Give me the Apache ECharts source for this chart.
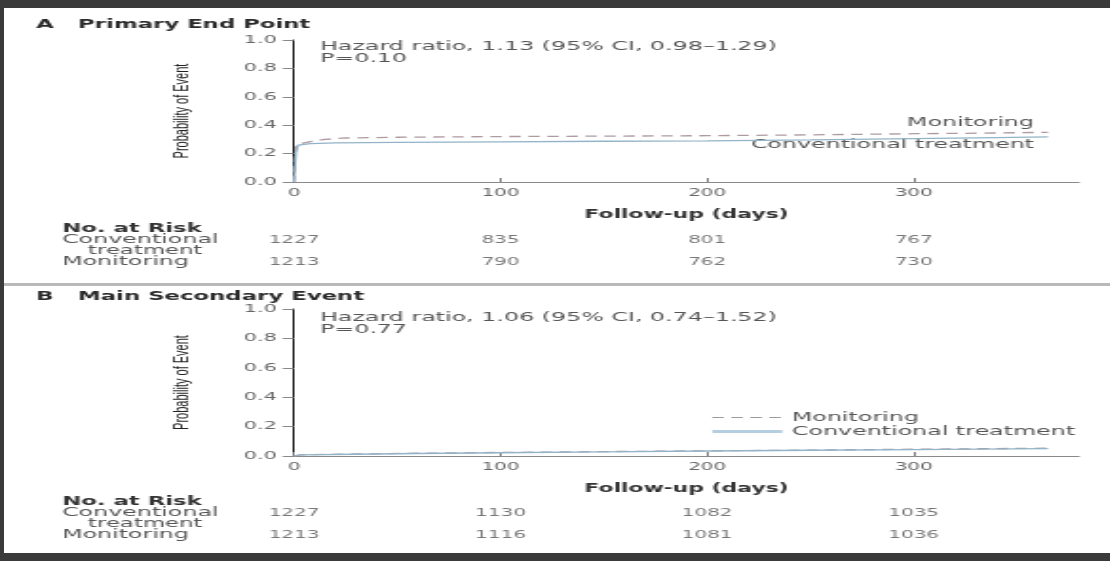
<!DOCTYPE html>
<html>
<head>
<meta charset="utf-8">
<script src="https://cdn.jsdelivr.net/npm/echarts@6/dist/echarts.min.js"></script>
<style>
  html, body { margin: 0; padding: 0; width: 1110px; height: 561px; overflow: hidden; background: #3a3a3a; }
  #frame { position: absolute; left: 4px; top: 8px; width: 1106px; height: 545px; background: #fff; }
  #rule { position: absolute; left: 4px; top: 283px; width: 1106px; height: 3px; background: #b9b9b9; }
  #chart { position: absolute; left: 0; top: 0; height: 561px; transform-origin: 0 0; }
</style>
</head>
<body>
<div id="frame"></div>
<div id="rule"></div>
<div id="chart"></div>
<script>
// ---- data -------------------------------------------------------------
const xTicks = [0, 100, 200, 300];
const xMax = 380;

// Panel A: cumulative probability of the primary end point, [day, probability]
const primaryMonitoring = [[0, 0], [0.5, 0.16], [1, 0.25], [3, 0.27], [8, 0.285], [15, 0.30], [25, 0.31], [50, 0.315], [100, 0.32], [150, 0.323], [200, 0.326], [250, 0.332], [300, 0.34], [340, 0.345], [365, 0.35]];
const primaryConventional = [[0, 0], [0.5, 0.12], [1, 0.22], [2, 0.26], [8, 0.27], [20, 0.275], [50, 0.279], [100, 0.283], [150, 0.287], [200, 0.29], [250, 0.297], [300, 0.306], [340, 0.313], [365, 0.318]];

// Panel B: cumulative probability of the main secondary event
const secondaryMonitoring = [[0, 0], [3, 0.008], [30, 0.014], [60, 0.019], [100, 0.024], [150, 0.03], [200, 0.035], [250, 0.04], [300, 0.046], [365, 0.053]];
const secondaryConventional = [[0, 0], [3, 0.007], [30, 0.012], [60, 0.017], [100, 0.022], [150, 0.028], [200, 0.034], [250, 0.039], [300, 0.044], [365, 0.05]];

// Numbers at risk
const riskDays = [0, 100, 200, 300];
const primaryRiskConventional = [1227, 835, 801, 767];
const primaryRiskMonitoring = [1213, 790, 762, 730];
const secondaryRiskConventional = [1227, 1130, 1082, 1035];
const secondaryRiskMonitoring = [1213, 1116, 1081, 1036];

const primaryHazard = 'Hazard ratio, 1.13 (95% CI, 0.98\u20131.29)\nP=0.10';
const secondaryHazard = 'Hazard ratio, 1.06 (95% CI, 0.74\u20131.52)\nP=0.77';

// ---- layout ------------------------------------------------------------
// The figure is drawn narrow and widened horizontally by S.
const S = 1.9;
const W = 1110 / S;
const px = v => v / S;
const FONT = '"DejaVu Sans", Verdana, sans-serif';
const MON_COLOR = '#ad9aa2';
const CONV_COLOR = '#93b3c8';

const chartEl = document.getElementById('chart');
chartEl.style.width = W + 'px';
chartEl.style.transform = 'scaleX(' + S + ')';

const plotLeft = px(294);
const plotWidth = px(785);

function plotXAxis(gridIndex) {
  return {
    gridIndex, type: 'value', min: 0, max: xMax, interval: 100,
    axisLine: { show: true, lineStyle: { color: '#8a8a8a', width: 1 } },
    axisTick: { show: true, inside: true, length: 4, customValues: xTicks, lineStyle: { color: '#777' } },
    axisLabel: { customValues: xTicks, fontSize: 10.5, color: '#666', margin: 6, fontFamily: FONT },
    splitLine: { show: false },
    name: 'Follow-up (days)', nameLocation: 'middle', nameGap: 27,
    nameTextStyle: { fontSize: 11.5, fontWeight: 'bold', color: '#333', fontFamily: FONT }
  };
}
function plotYAxis(gridIndex) {
  return {
    gridIndex, type: 'value', min: 0, max: 1, interval: 0.2,
    axisLine: { show: true, lineStyle: { color: '#1a1a1a', width: 1 } },
    axisTick: { show: true, length: 6, lineStyle: { color: '#888' } },
    axisLabel: { formatter: v => v.toFixed(1), fontSize: 11, color: '#666', margin: 9, fontFamily: FONT },
    splitLine: { show: false },
    name: 'Probability of Event', nameLocation: 'middle', nameGap: 53, nameRotate: 90,
    nameTextStyle: { fontSize: 11, color: '#222', fontFamily: '"Liberation Sans", Arial, sans-serif' }
  };
}
function riskXAxis(gridIndex) {
  return { gridIndex, type: 'value', min: 0, max: xMax, show: false };
}
function riskYAxis(gridIndex) {
  return { gridIndex, type: 'value', min: 0, max: 1, show: false };
}

function curve(name, data, axisIndex, dashed) {
  return {
    name, type: 'line', xAxisIndex: axisIndex, yAxisIndex: axisIndex, data,
    symbol: 'none', silent: true,
    lineStyle: { color: dashed ? MON_COLOR : CONV_COLOR, width: 1.3, type: dashed ? [6, 4] : 'solid' },
    itemStyle: { color: dashed ? MON_COLOR : CONV_COLOR }
  };
}
function riskRow(values, row, axisIndex) {
  return {
    type: 'scatter', xAxisIndex: axisIndex, yAxisIndex: axisIndex, silent: true,
    symbolSize: 1, itemStyle: { color: 'rgba(0,0,0,0)' },
    data: riskDays.map((d, i) => [d, row, values[i]]),
    label: { show: true, position: 'inside', formatter: p => String(p.value[2]), fontSize: 10.5, color: '#555', fontFamily: FONT }
  };
}

function text(x, y, str, size, extra) {
  return {
    type: 'text', x: px(x), y, silent: true,
    style: Object.assign({ text: str, fill: '#555', font: size + 'px ' + FONT, align: 'left', verticalAlign: 'middle' }, extra || {})
  };
}
function bold(x, y, str, size, fill) {
  return text(x, y, str, size, { font: 'bold ' + size + 'px ' + FONT, fill: fill || '#2a2a2a' });
}

const graphics = [
  // Panel A
  bold(36, 25, 'A', 12), bold(78, 25, 'Primary End Point', 12),
  text(320, 53, primaryHazard, 12.5, { lineHeight: 12 }),
  text(1034, 123, 'Monitoring', 12.5, { align: 'right' }),
  text(1034, 145, 'Conventional treatment', 12.5, { align: 'right' }),
  bold(62, 229, 'No. at Risk', 12, '#333'),
  text(62, 240, 'Conventional', 12.5), text(88, 251, 'treatment', 12), text(62, 262, 'Monitoring', 12.5),
  // Panel B
  bold(36, 297, 'B', 12), bold(78, 297, 'Main Secondary Event', 12),
  text(320, 324, secondaryHazard, 12.5, { lineHeight: 12 }),
  bold(62, 502, 'No. at Risk', 12, '#333'),
  text(62, 513, 'Conventional', 12.5), text(88, 524, 'treatment', 12), text(62, 535, 'Monitoring', 12.5)
];

const hiddenMarker = { color: 'rgba(0,0,0,0)', borderWidth: 0, opacity: 0 };

const chart = echarts.init(chartEl, null, { renderer: 'canvas' });
chart.setOption({
  animation: false,
  backgroundColor: 'transparent',
  grid: [
    { left: plotLeft, width: plotWidth, top: 40, height: 142 },
    { left: plotLeft, width: plotWidth, top: 240, height: 22 },
    { left: plotLeft, width: plotWidth, top: 309, height: 147 },
    { left: plotLeft, width: plotWidth, top: 513, height: 22 }
  ],
  xAxis: [plotXAxis(0), riskXAxis(1), plotXAxis(2), riskXAxis(3)],
  yAxis: [plotYAxis(0), riskYAxis(1), plotYAxis(2), riskYAxis(3)],
  legend: {
    selectedMode: false, orient: 'vertical', left: px(700), top: 406,
    itemWidth: px(70), itemHeight: 10, itemGap: 1,
    textStyle: { fontSize: 12.5, color: '#555', fontFamily: FONT },
    data: [
      { name: 'Monitoring', itemStyle: hiddenMarker, lineStyle: { color: '#9a9a9a', width: 1.2 } },
      { name: 'Conventional treatment', itemStyle: hiddenMarker, lineStyle: { color: '#b6cfe0', width: 3 } }
    ]
  },
  series: [
    curve('Monitoring', primaryMonitoring, 0, true),
    curve('Conventional treatment', primaryConventional, 0, false),
    riskRow(primaryRiskConventional, 1, 1),
    riskRow(primaryRiskMonitoring, 0, 1),
    curve('Monitoring', secondaryMonitoring, 2, true),
    curve('Conventional treatment', secondaryConventional, 2, false),
    riskRow(secondaryRiskConventional, 1, 3),
    riskRow(secondaryRiskMonitoring, 0, 3)
  ],
  graphic: graphics
});
</script>
</body>
</html>
